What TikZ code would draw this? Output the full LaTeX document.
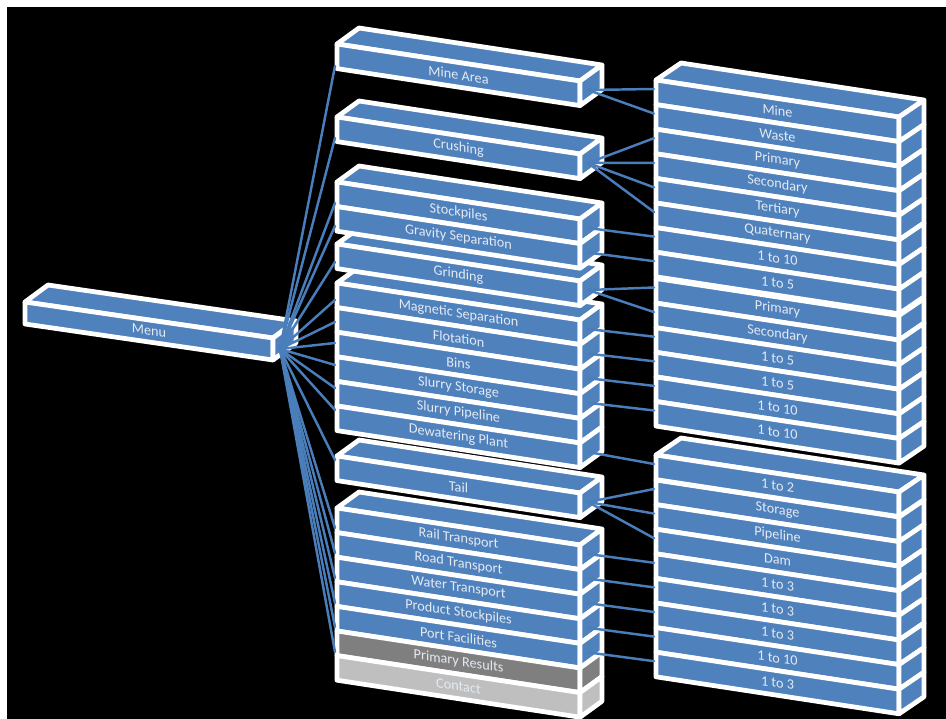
\documentclass[tikz,border=0pt]{standalone}
\usepackage{fontspec}
\setmainfont{Carlito}
\definecolor{tileblue}{HTML}{4F81BD}
\definecolor{tilegrey}{HTML}{7F7F7F}
\definecolor{tilepale}{HTML}{BFBFBF}
\definecolor{labelink}{HTML}{E4EAF2}
\definecolor{linkblue}{HTML}{4A7EBB}

% A stack of 3D bars, one bar per row.
% #1 name prefix, #2/#3 front top-left corner, #4/#5 run and drop of the front edge,
% #6/#7 depth offset, #8 row height, #9 rows as label/fill pairs
\newcommand{\tilestack}[9]{%
  \foreach \lab/\col [count=\k from 0] in {#9} {%
    \pgfmathsetmacro\yy{#3+\k*#8}%
    \ifnum\k=0
      \draw[tileedge, fill=\col] (#2,#3) -- ++(#6,#7) -- ++(#4,#5)
        -- ({#2+#4},{#3+#5}) -- cycle;
    \fi
    \draw[tileedge, fill=\col] (#2,\yy) -- ++(#4,#5) -- ++(0,#8)
      -- (#2,{\yy+#8}) -- cycle;
    \draw[tileedge, fill=\col] ({#2+#4},{\yy+#5}) -- ++(#6,#7) -- ++(0,#8)
      -- ({#2+#4},{\yy+#5+#8}) -- cycle;
    \node[tilelabel] (#1-\k) at ({#2+#4/2},{\yy+#5/2+#8/2}) {\lab};
    \coordinate (#1-\k-in) at ({#2-2},{\yy+9});
    \coordinate (#1-\k-out) at ({#2+#4+8},{\yy+#5+9});
  }%
}

\begin{document}
\begin{tikzpicture}[x=0.02cm, y=-0.02cm,
  tileedge/.style={draw=white, line width=2.7pt, line join=round},
  tilelabel/.style={text=labelink, font=\fontsize{8.1}{10}\selectfont,
    inner sep=0pt, yslant=-0.152},
  link/.style={draw=linkblue, line width=1.4pt, line cap=round}]

\useasboundingbox (0,0) rectangle (946,719);
\fill[white] (0,0) rectangle (946,719);
\fill[black] (7,7) rectangle (946,719);

% right column, lowest stack first so upper stacks sit in front
\tilestack{rd}{656}{480}{243}{37}{25}{-17}{24.6}{Storage/tileblue, Pipeline/tileblue,
  Dam/tileblue, 1 to 3/tileblue, 1 to 3/tileblue, 1 to 3/tileblue, 1 to 10/tileblue,
  1 to 3/tileblue}
\tilestack{rc}{656}{455}{243}{37}{25}{-17}{24.6}{1 to 2/tileblue}
\tilestack{rb}{656}{278.5}{243}{37}{25}{-17}{24.6}{Primary/tileblue, Secondary/tileblue,
  1 to 5/tileblue, 1 to 5/tileblue, 1 to 10/tileblue, 1 to 10/tileblue}
\tilestack{ra}{656}{80}{243}{37}{25}{-17}{24.6}{Mine/tileblue, Waste/tileblue,
  Primary/tileblue, Secondary/tileblue, Tertiary/tileblue, Quaternary/tileblue,
  1 to 10/tileblue, 1 to 5/tileblue}

% middle column
\tilestack{tr}{337}{508}{243}{37}{22}{-16}{24.6}{Rail Transport/tileblue,
  Road Transport/tileblue, Water Transport/tileblue, Product Stockpiles/tileblue,
  Port Facilities/tileblue, Primary Results/tilegrey, Contact/tilepale}
\tilestack{ta}{337}{456}{243}{37}{22}{-16}{24.6}{Tail/tileblue}
\tilestack{pr}{337}{283}{243}{37}{22}{-16}{24.6}{Magnetic Separation/tileblue,
  Flotation/tileblue, Bins/tileblue, Slurry Storage/tileblue, Slurry Pipeline/tileblue,
  Dewatering Plant/tileblue}
\tilestack{gr}{337}{244}{243}{37}{22}{-16}{24.6}{Grinding/tileblue}
\tilestack{sg}{337}{182}{243}{37}{22}{-16}{24.6}{Stockpiles/tileblue,
  Gravity Separation/tileblue}
\tilestack{cr}{337}{117}{243}{37}{22}{-16}{24.6}{Crushing/tileblue}
\tilestack{ma}{337}{44}{243}{37}{22}{-16}{24.6}{Mine Area/tileblue}

% root bar
\tilestack{menu}{25}{302}{248}{36}{23}{-17}{22}{Menu/tileblue}
\coordinate (menu-hub) at (280,349);

% where the menu links meet the middle column
\foreach \nm/\yv in {ma-0/66, cr-0/138, sg-0/203, sg-1/226, gr-0/262,
    pr-0/300, pr-1/322, pr-2/343, pr-3/365, pr-4/388, pr-5/410, ta-0/460,
    tr-0/528, tr-1/553, tr-2/578, tr-3/603, tr-4/627, tr-5/652}
  \coordinate (\nm-w) at (335,\yv);

\foreach \nm in {ma-0, cr-0, sg-0, sg-1, gr-0, pr-0, pr-1, pr-2, pr-3, pr-4,
    pr-5, ta-0, tr-0, tr-1, tr-2, tr-3, tr-4, tr-5}
  \draw[link] (menu-hub) -- (\nm-w);

\foreach \a/\b in {ma-0/ra-0, ma-0/ra-1, cr-0/ra-2, cr-0/ra-3, cr-0/ra-4,
    cr-0/ra-5, sg-0/ra-6, sg-1/ra-7, gr-0/rb-0, gr-0/rb-1, pr-0/rb-2,
    pr-1/rb-3, pr-2/rb-4, pr-3/rb-5, pr-5/rc-0, ta-0/rd-0, ta-0/rd-1,
    ta-0/rd-2, tr-0/rd-3, tr-1/rd-4, tr-2/rd-5, tr-3/rd-6, tr-4/rd-7}
  \draw[link] (\a-out) -- (\b-in);

\end{tikzpicture}
\end{document}
